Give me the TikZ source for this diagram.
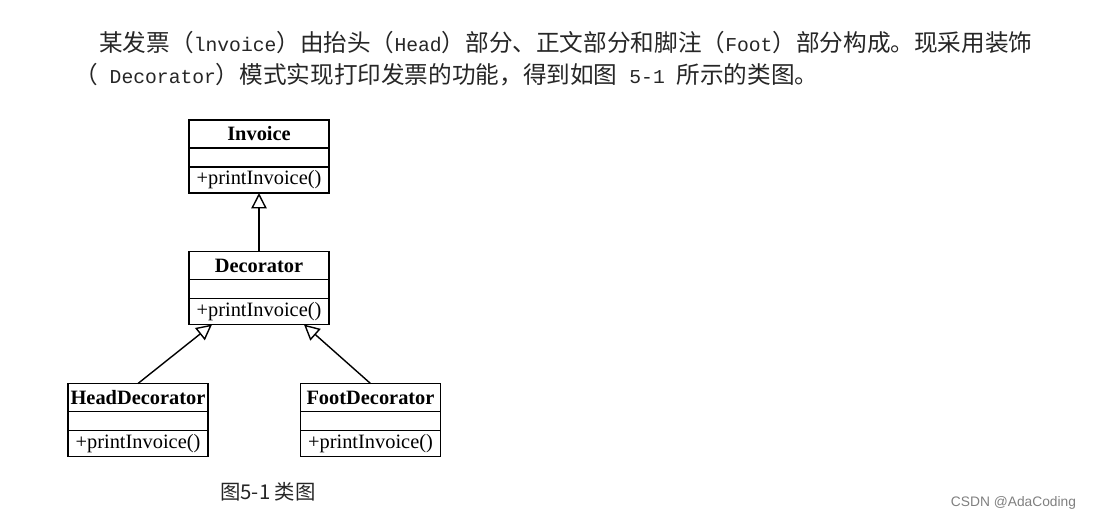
\documentclass[tikz,border=0pt]{standalone}
\usepackage{fontspec}
\setmainfont{Liberation Serif}
\newfontfamily\cjk{Noto Sans CJK SC}
\newfontfamily\lat{Liberation Mono}[Scale=0.833]
\newfontfamily\wmfont{Liberation Sans}
\usetikzlibrary{positioning,calc,arrows.meta}

\begin{document}
\begin{tikzpicture}[x=0.025cm,y=-0.025cm,
  para/.style={anchor=west,inner sep=0pt,text=black!85,font=\cjk\fontsize{16.8}{18}\selectfont},
  cname/.style={draw,line width=0.9pt,minimum width=3.5cm,minimum height=0.7cm,
    inner sep=0pt,outer sep=0pt,font=\fontsize{14.5}{16}\selectfont\bfseries},
  cattr/.style={draw,line width=0.9pt,minimum width=3.5cm,minimum height=0.475cm,
    inner sep=0pt,outer sep=0pt},
  cmeth/.style={draw,line width=0.9pt,minimum width=3.5cm,minimum height=0.65cm,
    inner sep=0pt,outer sep=0pt,font=\fontsize{14.5}{16}\selectfont},
  inherit/.style={line width=1pt,-{Triangle[open,length=11pt,width=11pt]}}]
\useasboundingbox[fill=white] (0,0) rectangle (1095,520);

% text above the diagram
\node[para] (p1) at (99,43)
  {某发票（{\lat lnvoice}）由抬头（{\lat Head}）部分、正文部分和脚注（{\lat Foot}）部分构成。现采用装饰};
\node[para] (p2) at (74,75)
  {（{\lat{} Decorator}）模式实现打印发票的功能，得到如图{\lat{} 5-1 }所示的类图。};

% classes
\node[cname] (inv) at (259,134) {Invoice};
\node[cattr,below=0pt of inv] (inva) {};
\node[cmeth,below=0pt of inva] (invm) {+printInvoice()};

\node[cname] (dec) at (259,265.5) {Decorator};
\node[cattr,below=0pt of dec] (deca) {};
\node[cmeth,below=0pt of deca] (decm) {+printInvoice()};

\node[cname] (hd) at (138,397.5) {HeadDecorator};
\node[cattr,below=0pt of hd] (hda) {};
\node[cmeth,below=0pt of hda] (hdm) {+printInvoice()};

\node[cname] (ft) at (370.5,397.5) {FootDecorator};
\node[cattr,below=0pt of ft] (fta) {};
\node[cmeth,below=0pt of fta] (ftm) {+printInvoice()};

\coordinate (dl) at ($(decm.south west)+(23,0)$);
\coordinate (dr) at ($(decm.south west)+(115,0)$);

\draw[inherit] (dec) -- (invm);
\draw[inherit] (hd.north) -- (dl);
\draw[inherit] (ft.north) -- (dr);

% caption and mark
\node[font=\cjk\fontsize{14.5}{16}\selectfont,text=black!85] (cap) at (268,492) {图5-1 类图};
\node[anchor=east,font=\wmfont\fontsize{9.8}{11}\selectfont,text=black!50] (csdn) at (1081,503) {CSDN @AdaCoding};
\end{tikzpicture}
\end{document}
